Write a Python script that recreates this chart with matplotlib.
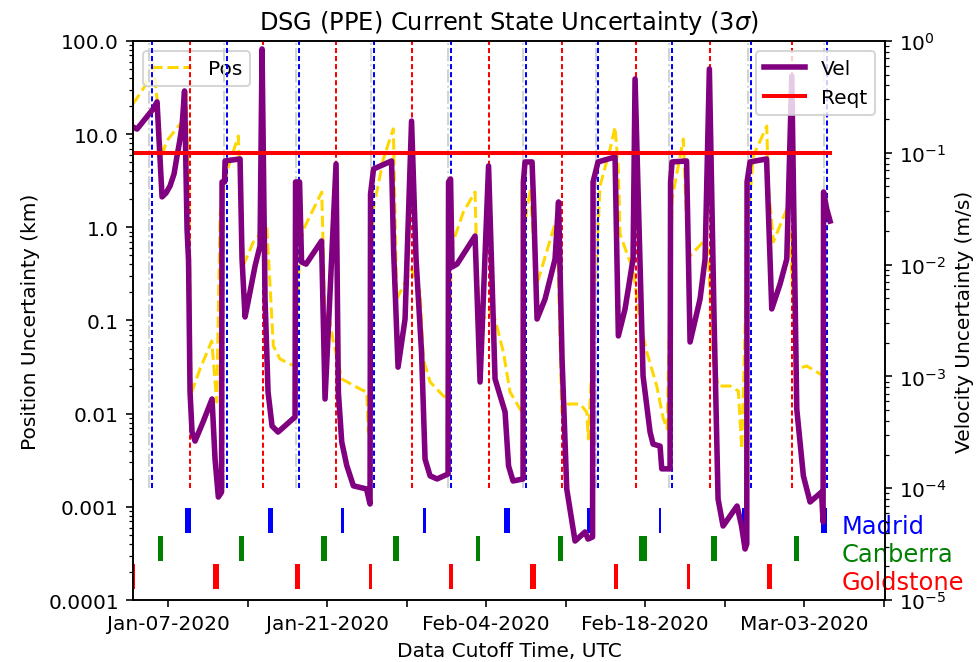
import numpy as np
import matplotlib
matplotlib.use("Agg")
import matplotlib.pyplot as plt
import matplotlib.dates as mdates
from matplotlib.ticker import FuncFormatter, NullFormatter
from datetime import date

# times are days since 2020-01-01 00:00 UTC
vel_t = [2.918, 3.270, 4.679, 5.031, 5.472, 5.824, 6.176, 6.528, 6.792, 7.013, 7.233, 7.453,
         7.673, 7.805, 7.937,
         8.113, 8.377, 9.082, 9.874, 10.138, 10.429, 10.711, 10.755, 10.975, 11.019, 12.340,
         12.516, 12.780, 13.044, 13.661, 14.101, 14.277, 14.541, 14.806, 15.158, 15.686,
         17.183, 17.227, 17.579, 17.755, 18.151, 19.516, 19.824, 20.793, 20.997, 21.292,
         21.732, 22.319, 23.478, 23.786, 23.830, 24.095, 25.680, 25.856, 26.252, 26.869,
         27.441, 27.837,
         28.321, 28.630, 29.070, 29.686, 30.655, 30.699, 30.875, 31.007, 31.447, 33.032,
         33.473, 34.221, 34.793, 35.674, 35.982, 36.378, 37.259, 37.285, 37.435, 38.051,
         38.183, 38.491, 39.196, 40.076, 40.384, 40.693, 41.106, 41.837, 42.718, 42.982,
         43.378, 43.422, 43.863, 45.360, 45.650, 46.240, 46.945, 47.121, 47.825, 48.441,
         48.706, 49.322, 49.472, 50.203, 50.247, 50.379, 51.656, 51.964, 52.845, 53.285,
         53.664, 54.078, 54.430, 54.870, 56.103, 56.499, 56.807, 56.957, 56.983, 57.247,
         58.700, 59.158, 59.889, 60.479, 60.919, 61.359, 61.941, 62.531, 63.543, 63.675,
         63.719, 64.001, 64.292]
vel = [0.170, 0.163, 0.246, 0.285, 0.0403, 0.0437, 0.0505, 0.0646, 0.0936, 0.125, 0.174, 0.357,
       0.0208, 0.0108, 7.24e-4,
       3.18e-4, 2.64e-4, 3.91e-4, 6.28e-4, 1.82e-4, 8.34e-5, 9.24e-5, 0.0548, 0.0548, 0.0845, 0.0881,
       0.0112, 3.40e-3, 4.63e-3, 9.71e-3, 0.0147, 0.848, 4.92e-3, 7.24e-4, 3.60e-4, 3.18e-4,
       4.34e-4, 0.0548, 0.0548, 0.01055, 0.0101, 0.01626, 6.28e-4, 0.0794, 7.2e-4, 2.6e-4,
       1.6e-4, 1.05e-4, 9.84e-5, 7.22e-5, 0.0428, 0.0716, 0.0845, 0.0138, 1.21e-3, 3.26e-3,
       0.192, 0.0112,
       1.65e-3, 1.82e-4, 1.29e-4, 1.21e-4, 1.34e-4, 0.0548, 0.0583, 9.52e-3, 0.0101, 0.0180,
       8.91e-4, 0.0762, 9.48e-4, 4.81e-4, 1.58e-4, 1.16e-4, 1.21e-4, 0.0548, 0.0828, 0.0828,
       0.0363, 3.26e-3, 4.92e-3, 0.0112, 0.0363, 1.43e-3, 9.84e-5, 3.37e-5, 4.06e-5, 3.51e-5,
       3.66e-5, 0.0548, 0.0828, 0.0917, 2.30e-3, 4.01e-3, 0.0112, 0.457, 1.01e-3, 3.18e-4,
       2.48e-4, 2.38e-4, 1.49e-4, 1.49e-4, 0.0548, 0.0828, 0.0845, 2.03e-3, 4.92e-3, 0.0112,
       0.562, 3.26e-3, 8.0e-5, 4.59e-5, 6.93e-5, 4.59e-5, 2.86e-5, 3.17e-5, 0.0548, 0.0828,
       0.0881, 4.01e-3, 6.70e-3, 0.0112, 0.486, 5.11e-4, 1.29e-4, 7.53e-5, 9.24e-5, 4.99e-5,
       0.0446, 0.0314, 0.0245]

pos_t = [2.918, 3.975, 4.415, 4.679, 5.031, 5.445, 5.886, 7.206, 7.585, 7.849, 8.025, 8.818,
         9.848, 10.288, 10.579, 11.169, 12.190, 12.489, 12.692, 13.511, 14.691, 15.272, 15.862,
         16.742, 17.183, 17.623, 18.063, 19.534, 19.824, 20.115, 20.555, 21.295, 22.906,
         23.496, 23.637, 24.077, 24.958, 25.838, 26.138, 27.458, 28.189, 28.480, 29.070,
         30.241, 30.567, 30.981, 32.002, 33.032, 33.182, 33.473, 34.353, 34.793, 35.524,
         36.114, 36.994, 37.259, 37.347, 37.875, 38.227, 38.491, 40.252, 40.666, 41.247,
         42.277, 42.867, 43.008, 44.038, 44.919, 45.359, 45.650, 45.799, 46.416, 46.945,
         47.562, 48.151, 49.032, 49.613, 49.939, 50.379, 51.374, 51.674, 51.964, 53.109,
         53.549, 54.016, 54.456, 55.486, 56.217, 56.516, 57.071, 57.538, 58.718, 58.859,
         59.299, 60.479, 60.770, 61.359, 62.240, 63.411, 63.675]
pos = [21.1, 32.9, 52.6, 61.0, 23.9, 5.83, 8.45, 13.5, 27.0, 2.01, 0.0163, 0.0302,
       0.0603, 0.0133, 1.39, 3.93, 9.56, 0.96, 0.404, 0.697, 1.03, 0.0532, 0.0386,
       0.0341, 0.0325, 0.697, 1.03, 2.39, 0.0873, 0.123, 0.0588, 0.0236, 0.0184,
       0.0171, 0.00636, 1.57, 5.41, 11.4, 0.170, 0.357, 0.202, 0.0386, 0.0219,
       0.0155, 0.0144, 0.631, 1.46, 2.39, 0.425, 0.0964, 0.123, 0.104, 0.0459,
       0.0171, 0.0112, 0.00993, 0.96, 2.58, 0.585, 0.247, 1.29, 0.0104, 0.0127,
       0.0127, 0.0104, 0.00535, 2.78, 6.93, 11.9, 4.23, 0.849, 0.518, 0.357,
       0.0964, 0.0459, 0.0198, 0.00877, 0.00686, 2.01, 8.87, 0.96, 0.492, 0.697,
       0.585, 0.0359, 0.0198, 0.0198, 0.0175, 0.00418, 1.23, 5.83, 12.2, 2.78,
       0.697, 1.57, 0.750, 0.0302, 0.0325, 0.0267, 0.0248]

reqt = 0.1  # m/s

# data cutoff events
madrid_cut = [4.625, 11.17, 17.56, 24.14, 30.92, 37.50, 43.89, 50.40, 57.33, 64.03]
goldstone_cut = [7.937, 14.39, 20.79, 27.46, 34.26, 40.67, 47.21, 53.73, 60.95]
other_cut = [4.36, 10.9, 17.3, 23.9, 30.65, 37.25, 43.65, 50.15, 57.08, 63.8]

# tracking passes: start (days), duration (hours)
madrid_start = [7.523, 14.823, 21.25, 28.436, 35.559, 42.85, 49.26, 56.52, 63.525]
madrid_hrs = [12.7, 10.6, 6.3, 6.3, 12.7, 10.6, 4.2, 6.3, 12.7]
canberra_start = [5.075, 12.269, 19.498, 25.785, 33.147, 40.296, 47.499, 53.839, 61.103]
canberra_hrs = [10.6, 10.6, 12.7, 12.7, 8.5, 10.6, 16.9, 12.7, 10.6]
goldstone_start = [2.8, 9.936, 17.2, 23.654, 30.743, 37.901, 45.271, 51.68, 58.7]
goldstone_hrs = [8.0, 12.7, 10.6, 6.3, 8.5, 12.7, 8.5, 6.3, 10.6]

base = mdates.date2num(np.datetime64("2020-01-01T00:00"))
d = lambda v: base + np.asarray(v, dtype=float)

fig = plt.figure(figsize=(979 / 145, 663 / 145), dpi=145)
ax = fig.add_subplot(111)
fig.subplots_adjust(left=0.1359, right=0.904, bottom=0.0935, top=0.9367)
ax2 = ax.twinx()

ax.plot(d(pos_t), pos, '--', color='gold', lw=1.5, label='Pos')

short_dash = (0, (2.5, 1.5))
ax2.vlines(d(other_cut), 1e-4, 1, colors='lightgray', linestyles='-.', lw=1)
ax2.vlines(d(madrid_cut), 1e-4, 1, colors='b', linestyles=[short_dash], lw=1)
ax2.vlines(d(goldstone_cut), 1e-4, 1, colors='r', linestyles=[short_dash], lw=1)
ax2.plot(d(vel_t), vel, color='purple', lw=2.75, label='Vel')
ax2.plot(d([vel_t[0], vel_t[-1]]), [reqt, reqt], color='r', lw=2, label='Reqt')

for starts, hrs, c, y0 in [(madrid_start, madrid_hrs, 'b', 0.12),
                           (canberra_start, canberra_hrs, 'g', 0.07),
                           (goldstone_start, goldstone_hrs, 'r', 0.02)]:
    for s, h in zip(starts, hrs):
        ax2.axvspan(d(s), d(s + h / 24), ymin=y0, ymax=y0 + 0.045, color=c, lw=0)

ax.text(0.942, 0.12, 'Madrid', color='b', fontsize=12, transform=ax.transAxes, va='baseline')
ax.text(0.942, 0.07, 'Canberra', color='g', fontsize=12, transform=ax.transAxes, va='baseline')
ax.text(0.942, 0.02, 'Goldstone', color='r', fontsize=12, transform=ax.transAxes, va='baseline')

ax.set_yscale('log')
ax2.set_yscale('log')
ax.set_ylim(1e-4, 1e2)
ax2.set_ylim(1e-5, 1)
ax.yaxis.set_major_formatter(FuncFormatter(lambda y, p: str(y)))
ax.yaxis.set_minor_formatter(NullFormatter())

ax.set_xlim(d(2.918), d(69.13))
ax.xaxis.set_major_locator(mdates.WeekdayLocator(byweekday=mdates.TU))
ref = date(2020, 1, 7).toordinal()


def xfmt(x, p):
    dt = mdates.num2date(x)
    if (dt.toordinal() - ref) % 14 == 0:
        return dt.strftime('%b-%d-%Y')
    return ''


ax.xaxis.set_major_formatter(FuncFormatter(xfmt))

ax.set_title(r'DSG (PPE) Current State Uncertainty (3$\sigma$)')
ax.set_xlabel('Data Cutoff Time, UTC')
ax.set_ylabel('Position Uncertainty (km)')
ax2.set_ylabel('Velocity Uncertainty (m/s)')
ax.legend(loc='upper left')
ax2.legend(loc='upper right')

fig.savefig('out.png', dpi=145)
